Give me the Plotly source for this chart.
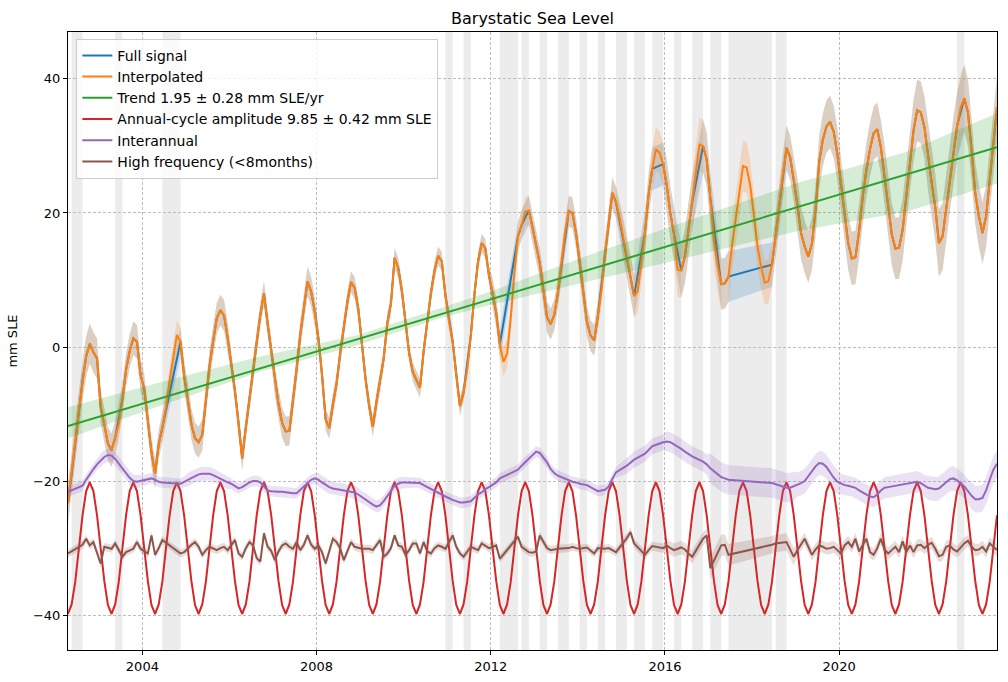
import numpy as np
import pandas as pd
import plotly.graph_objects as go

# ---------------- data ----------------
start_month = "2002-04"
end_month = "2023-08"

missing_months = ["2002-06", "2002-07", "2003-06", "2004-07", "2004-08", "2004-09", "2004-10",
                  "2011-01", "2011-06", "2012-04", "2012-05", "2012-06", "2012-07", "2012-10",
                  "2013-03", "2013-08", "2013-09", "2014-02", "2014-07", "2014-12", "2015-01",
                  "2015-05", "2015-06", "2015-10", "2015-11", "2016-04", "2016-09", "2016-10",
                  "2017-02", "2017-03", "2017-07", "2017-08", "2017-09", "2017-10", "2017-11",
                  "2017-12", "2018-01", "2018-02", "2018-03", "2018-04", "2018-05",
                  "2018-08", "2018-09", "2022-10"]

interpolated = [
    -23.3, -19.0, -14.0, -9.5, -5.0, -1.4, 0.5, -0.8, -1.7,                      # 2002 Apr-Dec
    -8.9, -11.6, -14.4, -15.4, -13.5, -11.5, -7.8, -3.4, -0.6, 1.3, 0.8, -4.2,   # 2003
    -6.2, -10.8, -15.7, -18.9, -14.5, -12.0, -9.0, -5.0, -1.5, 1.8, 0.8, -4.3,   # 2004
    -7.6, -11.5, -13.6, -14.2, -13.1, -7.9, -2.8, 0.9, 4.3, 5.5, 4.7, 1.4,       # 2005
    -2.4, -6.5, -11.4, -16.6, -12.0, -7.5, -3.5, 0.7, 4.8, 8.0, 3.5, -0.6,       # 2006
    -5.1, -8.5, -11.3, -12.6, -12.5, -8.3, -3.3, 1.8, 5.7, 9.8, 8.3, 5.3,        # 2007
    1.3, -4.1, -10.8, -12.1, -8.5, -5.5, -1.0, 3.0, 6.8, 9.7, 8.8, 5.7,          # 2008
    0.6, -4.8, -8.8, -11.9, -8.2, -5.1, -1.7, 3.6, 6.5, 13.3, 11.8, 8.4,         # 2009
    3.5, -0.9, -3.7, -5.0, -6.1, -0.6, 4.0, 8.0, 11.4, 13.6, 12.8, 7.7,          # 2010
    3.8, 0.8, -4.3, -8.8, -6.8, -3.4, 1.7, 7.9, 12.8, 15.5, 14.7, 10.7,          # 2011
    8.1, 5.1, 0.4, -2.2, -1.0, 4.3, 11.0, 16.5, 18.2, 20.2, 20.4, 17.9,          # 2012
    15.1, 12.5, 8.5, 4.5, 3.4, 4.8, 8.1, 12.4, 17.2, 20.3, 20.0, 17.0,           # 2013
    12.6, 8.3, 3.8, 1.7, 1.0, 4.6, 8.5, 14.0, 18.7, 23.0, 21.6, 19.3,            # 2014
    16.4, 13.5, 10.6, 7.6, 8.3, 12.9, 17.1, 22.8, 26.6, 29.5, 29.0, 27.3,        # 2015
    24.1, 19.9, 16.8, 11.5, 11.4, 13.5, 17.6, 21.6, 25.3, 30.2, 30.0, 28.0,      # 2016
    22.2, 15.8, 12.2, 9.4, 9.5, 10.5, 15.2, 19.4, 23.0, 27.0, 26.8, 24.1,        # 2017
    19.7, 15.0, 12.0, 9.6, 9.8, 12.3, 16.6, 21.3, 25.8, 29.7, 28.3, 25.0,        # 2018
    21.3, 17.0, 15.0, 13.5, 15.4, 20.4, 27.6, 30.9, 32.9, 33.6, 32.1, 28.8,      # 2019
    24.4, 19.8, 15.5, 13.2, 13.4, 17.3, 22.4, 26.4, 29.5, 31.9, 32.5, 29.8,      # 2020
    25.7, 21.2, 16.8, 14.7, 14.8, 17.5, 22.4, 27.8, 32.3, 35.3, 35.0, 32.8,      # 2021
    28.3, 24.5, 20.8, 15.5, 16.5, 20.7, 25.3, 29.3, 33.0, 35.8, 37.1, 35.0,      # 2022
    29.5, 23.0, 19.5, 17.0, 19.5, 24.8, 30.5, 35.8,                              # 2023 Jan-Aug
]

annual_cycle = [
    -39.8, -38.4, -35.0, -30.0, -25.1, -21.5, -20.2, -21.5, -25.1,
    -30.0, -34.9, -38.5, -39.8, -38.4, -35.0, -30.0, -25.1, -21.5, -20.2, -21.5, -25.1,
    -30.0, -34.9, -38.5, -39.8, -38.4, -35.0, -30.0, -25.1, -21.5, -20.2, -21.5, -25.1,
    -30.0, -34.9, -38.5, -39.8, -38.4, -35.0, -30.0, -25.1, -21.5, -20.2, -21.5, -25.1,
    -30.0, -34.9, -38.5, -39.8, -38.4, -35.0, -30.0, -25.1, -21.5, -20.2, -21.5, -25.1,
    -30.0, -34.9, -38.5, -39.8, -38.4, -35.0, -30.0, -25.1, -21.5, -20.2, -21.5, -25.1,
    -30.0, -34.9, -38.5, -39.8, -38.4, -35.0, -30.0, -25.1, -21.5, -20.2, -21.5, -25.1,
    -30.0, -34.9, -38.5, -39.8, -38.4, -35.0, -30.0, -25.1, -21.5, -20.2, -21.5, -25.1,
    -30.0, -34.9, -38.5, -39.8, -38.4, -35.0, -30.0, -25.1, -21.5, -20.2, -21.5, -25.1,
    -30.0, -34.9, -38.5, -39.8, -38.4, -35.0, -30.0, -25.1, -21.5, -20.2, -21.5, -25.1,
    -30.0, -34.9, -38.5, -39.8, -38.4, -35.0, -30.0, -25.1, -21.5, -20.2, -21.5, -25.1,
    -30.0, -34.9, -38.5, -39.8, -38.4, -35.0, -30.0, -25.1, -21.5, -20.2, -21.5, -25.1,
    -30.0, -34.9, -38.5, -39.8, -38.4, -35.0, -30.0, -25.1, -21.5, -20.2, -21.5, -25.1,
    -30.0, -34.9, -38.5, -39.8, -38.4, -35.0, -30.0, -25.1, -21.5, -20.2, -21.5, -25.1,
    -30.0, -34.9, -38.5, -39.8, -38.4, -35.0, -30.0, -25.1, -21.5, -20.2, -21.5, -25.1,
    -30.0, -34.9, -38.5, -39.8, -38.4, -35.0, -30.0, -25.1, -21.5, -20.2, -21.5, -25.1,
    -30.0, -34.9, -38.5, -39.8, -38.4, -35.0, -30.0, -25.1, -21.5, -20.2, -21.5, -25.1,
    -30.0, -34.9, -38.5, -39.8, -38.4, -35.0, -30.0, -25.1, -21.5, -20.2, -21.5, -25.1,
    -30.0, -34.9, -38.5, -39.8, -38.4, -35.0, -30.0, -25.1, -21.5, -20.2, -21.5, -25.1,
    -30.0, -34.9, -38.5, -39.8, -38.4, -35.0, -30.0, -25.1, -21.5, -20.2, -21.5, -25.1,
    -30.0, -34.9, -38.5, -39.8, -38.4, -35.0, -30.0, -25.1, -21.5, -20.2, -21.5, -25.1,
    -30.0, -34.9, -38.5, -39.8, -38.4, -35.0, -30.0, -25.1,
]

interannual = [
    -21.6, -21.4, -21.2, -21.0, -20.7, -19.8, -18.9, -18.2, -17.5,
    -16.9, -16.4, -16.1, -16.2, -16.7, -17.3, -18.0, -18.8, -19.5, -20.0, -20.1, -20.0,
    -19.9, -19.7, -19.6, -19.8, -20.1, -20.2, -20.2, -20.3, -20.3, -20.4, -20.4, -20.1,
    -19.8, -19.5, -19.2, -19.0, -18.9, -18.9, -18.9, -19.1, -19.4, -19.6, -19.9, -20.2,
    -20.4, -20.8, -21.1, -20.9, -20.5, -20.2, -20.0, -20.0, -20.2, -20.8, -21.4, -21.5,
    -21.6, -21.6, -21.6, -21.7, -21.7, -21.8, -21.8, -21.3, -20.8, -20.3, -19.8, -19.6,
    -19.8, -20.2, -20.6, -20.9, -21.1, -21.2, -21.2, -21.3, -21.4, -21.5, -21.7, -22.0,
    -22.4, -22.7, -23.1, -23.5, -23.8, -23.6, -23.0, -22.2, -21.4, -20.7, -20.4, -20.2,
    -20.2, -20.2, -20.2, -20.2, -20.3, -20.6, -20.9, -21.2, -21.5, -21.7, -22.0, -22.3,
    -22.5, -22.8, -23.0, -23.2, -23.2, -23.1, -23.0, -22.5, -22.0, -21.7, -21.2, -20.9,
    -20.6, -20.2, -19.6, -19.3, -19.0, -18.8, -18.6, -18.3, -17.7, -17.1, -16.6, -16.1,
    -15.6, -15.8, -16.4, -17.2, -18.2, -18.8, -19.2, -19.5, -19.7, -19.9, -20.1, -20.2,
    -20.4, -20.5, -20.6, -20.9, -21.2, -21.5, -21.4, -21.3, -20.8, -19.7, -18.7, -18.3,
    -18.0, -17.7, -17.3, -16.8, -16.3, -16.1, -15.9, -15.4, -14.8, -14.5, -14.4, -14.2,
    -14.1, -14.2, -14.5, -14.9, -15.2, -15.6, -16.0, -16.3, -16.6, -16.9, -17.1, -17.5,
    -18.1, -18.6, -19.0, -19.4, -19.6, -19.8, -19.8, -19.8, -19.9, -19.9, -19.9, -19.9,
    -20.0, -20.0, -20.1, -20.2, -20.2, -20.3, -20.5, -20.8, -20.9, -21.0, -21.0, -20.8,
    -20.5, -20.3, -20.0, -19.3, -18.5, -17.8, -17.3, -17.4, -17.9, -18.7, -19.5, -20.1,
    -20.4, -20.6, -20.7, -20.8, -21.0, -21.4, -21.7, -22.0, -22.3, -22.4, -22.0, -21.4,
    -21.0, -20.9, -20.8, -20.8, -20.7, -20.6, -20.5, -20.3, -20.2, -20.1, -20.3, -20.7,
    -21.0, -21.1, -21.2, -21.1, -20.6, -20.1, -19.7, -19.6, -19.9, -20.3, -20.8, -21.5,
    -22.2, -22.7, -22.7, -22.5, -21.4, -19.8, -18.3, -17.4,
]

high_frequency = [
    -30.8, -30.5, -30.3, -30.1, -29.5, -28.6, -29.6, -29.1, -30.8,
    -32.3, -29.8, -30.0, -30.1, -29.3, -28.3, -31.3, -30.6, -30.3, -30.1, -29.1, -30.1,
    -30.5, -30.8, -28.1, -31.0, -30.0, -28.8, -29.3, -29.6, -30.0, -30.3, -30.8, -30.6,
    -30.1, -29.5, -29.1, -29.8, -31.0, -30.3, -29.8, -30.1, -30.3, -30.0, -29.8, -30.3,
    -29.5, -28.8, -30.8, -31.3, -30.0, -29.1, -29.6, -31.5, -32.0, -27.8, -29.8, -30.4,
    -31.8, -30.5, -29.6, -29.3, -29.8, -30.1, -29.1, -30.3, -29.5, -28.1, -29.5, -30.1,
    -29.6, -30.6, -32.3, -30.5, -28.6, -29.1, -30.0, -31.8, -30.5, -29.1, -29.8, -30.0,
    -30.1, -30.1, -30.1, -30.3, -29.5, -28.8, -31.3, -30.8, -30.0, -28.1, -29.6, -29.8,
    -31.0, -30.3, -29.3, -29.3, -30.8, -29.1, -30.5, -30.8, -30.0, -29.6, -29.8, -30.1,
    -29.8, -28.1, -29.8, -30.8, -31.3, -30.1, -29.8, -30.0, -30.3, -29.3, -29.6, -30.0,
    -29.8, -29.6, -31.6, -31.2, -30.8, -30.5, -30.0, -28.3, -29.8, -30.6, -30.6, -30.7,
    -30.5, -28.1, -29.5, -30.0, -30.3, -30.2, -30.1, -30.1, -30.0, -30.0, -29.8, -30.0,
    -30.1, -30.0, -29.9, -30.3, -30.8, -30.0, -29.6, -30.1, -30.0, -30.3, -30.6, -31.0,
    -29.8, -28.5, -27.6, -29.3, -30.3, -30.6, -31.0, -30.3, -29.7, -29.9, -30.2, -30.0,
    -29.6, -30.0, -30.3, -30.0, -29.9, -30.2, -30.8, -31.3, -29.8, -29.0, -28.6, -28.1,
    -33.0, -31.5, -30.4, -29.6, -29.5, -31.0, -30.9, -30.8, -30.7, -30.6, -30.5, -30.4,
    -30.3, -30.2, -30.1, -30.0, -29.9, -29.5, -29.3, -29.2, -29.1, -29.1, -30.3, -31.3,
    -30.3, -29.5, -28.6, -29.8, -31.0, -30.2, -29.6, -29.8, -30.1, -30.0, -29.8, -30.3,
    -30.8, -29.6, -29.1, -29.8, -28.6, -30.5, -29.5, -28.6, -30.6, -31.0, -30.0, -28.6,
    -30.2, -30.8, -30.3, -29.8, -30.6, -29.0, -30.6, -29.6, -30.6, -29.6, -29.5, -30.0,
    -29.5, -29.2, -30.1, -31.2, -31.0, -29.8, -29.6, -30.2, -30.5, -30.1, -29.3, -28.9,
    -29.8, -30.3, -30.2, -29.8, -30.5, -29.3, -29.8, -30.3,
]

# uncertainty half-widths read per calendar year
sigma_signal_by_year = {2002: 3.0, 2003: 2.5, 2004: 2.2, 2005: 2.3, 2006: 1.8, 2007: 2.2, 2008: 1.6,
                        2009: 1.5, 2010: 1.4, 2011: 1.4, 2012: 2.2, 2013: 2.3, 2014: 2.3, 2015: 3.2,
                        2016: 4.0, 2017: 3.8, 2018: 3.3, 2019: 3.9, 2020: 4.0, 2021: 4.6, 2022: 5.0,
                        2023: 4.6}
sigma_interannual_by_year = {2002: 0.8, 2003: 1.0, 2004: 0.8, 2005: 1.0, 2006: 0.8, 2007: 0.8, 2008: 1.0,
                             2009: 0.9, 2010: 0.8, 2011: 0.8, 2012: 0.8, 2013: 0.8, 2014: 0.8, 2015: 1.2,
                             2016: 1.5, 2017: 2.2, 2018: 2.2, 2019: 1.8, 2020: 1.5, 2021: 1.6, 2022: 1.8,
                             2023: 2.0}
sigma_hf_by_year = {2002: 0.6, 2003: 0.6, 2004: 0.6, 2005: 0.6, 2006: 0.6, 2007: 0.6, 2008: 0.6,
                    2009: 0.6, 2010: 0.6, 2011: 0.6, 2012: 0.6, 2013: 0.6, 2014: 0.6, 2015: 0.7,
                    2016: 1.0, 2017: 1.6, 2018: 1.3, 2019: 0.9, 2020: 0.9, 2021: 0.9, 2022: 0.9,
                    2023: 0.9}
annual_sigma = 0.42

trend_values = [-11.8, 29.8]        # at first and last month
trend_band_years = [2002.29, 2004.44, 2006.7, 2008.95, 2010.83, 2012.0, 2014.5, 2019.1, 2021.54, 2023.63]
trend_band_upper = [-9.0, -5.2, -1.4, 1.8, 5.8, 8.3, 14.3, 24.6, 29.1, 34.9]
trend_band_lower = [-13.6, -8.7, -3.7, 0.3, 4.3, 6.3, 10.2, 17.4, 20.2, 24.4]

x_tick_years = [2004, 2008, 2012, 2016, 2020]
y_tick_values = [-40, -20, 0, 20, 40]
y_tick_labels = ["\u221240", "\u221220", "0", "20", "40"]

# ---------------- derived ----------------
months = pd.period_range(start_month, end_month, freq="M")
t = np.array([p.year + (p.month - 0.5) / 12 for p in months])
years = np.array([p.year for p in months])
month_str = [str(p) for p in months]
miss_idx = sorted(month_str.index(m) for m in missing_months)
valid = np.array([i not in set(miss_idx) for i in range(len(t))])

interp = np.array(interpolated)
ann = np.array(annual_cycle)
ia = np.array(interannual)
hf = np.array(high_frequency)
s_sig = np.array([sigma_signal_by_year[y] for y in years])
s_ia = np.array([sigma_interannual_by_year[y] for y in years])
s_hf = np.array([sigma_hf_by_year[y] for y in years])

# gap spans: from last valid month before to first valid month after each run
runs = []
for i in miss_idx:
    if runs and i == runs[-1][1] + 1:
        runs[-1][1] = i
    else:
        runs.append([i, i])
gap_spans = [(t[a - 1], t[b + 1]) for a, b in runs]

C = dict(blue="#1f77b4", orange="#ff7f0e", green="#2ca02c", red="#d62728", purple="#9467bd", brown="#8c564b")
F = dict(blue="rgba(31,119,180,0.2)", orange="rgba(255,127,14,0.2)", green="rgba(44,160,44,0.2)",
         red="rgba(214,39,40,0.2)", purple="rgba(148,103,189,0.2)", brown="rgba(140,86,75,0.2)")

fig = go.Figure()


def band(x, lo, hi, fill):
    x = list(x)
    fig.add_trace(go.Scatter(x=x + x[::-1], y=list(hi) + list(lo)[::-1], fill="toself", fillcolor=fill,
                             mode="lines", line=dict(width=0), hoverinfo="skip", showlegend=False))


def line(x, y, color, name):
    fig.add_trace(go.Scatter(x=list(x), y=list(y), mode="lines", line=dict(color=color, width=2),
                             name=name))


tv, sv = t[valid], interp[valid]
band(tv, sv - s_sig[valid], sv + s_sig[valid], F["blue"])
line(tv, sv, C["blue"], "Full signal")
band(t, interp - s_sig, interp + s_sig, F["orange"])
line(t, interp, C["orange"], "Interpolated")
band(trend_band_years, trend_band_lower, trend_band_upper, F["green"])
line([t[0], t[-1]], trend_values, C["green"], "Trend 1.95 \u00b1 0.28 mm SLE/yr")
band(t, ann - annual_sigma, ann + annual_sigma, F["red"])
line(t, ann, C["red"], "Annual-cycle amplitude 9.85 \u00b1 0.42 mm SLE")
band(tv, ia[valid] - s_ia[valid], ia[valid] + s_ia[valid], F["purple"])
line(tv, ia[valid], C["purple"], "Interannual")
band(tv, hf[valid] - s_hf[valid], hf[valid] + s_hf[valid], F["brown"])
line(tv, hf[valid], C["brown"], "High frequency (<8months)")

shapes = [dict(type="rect", xref="x", yref="paper", x0=a, x1=b, y0=0, y1=1,
               fillcolor="rgba(128,128,128,0.15)", line=dict(width=0), layer="below")
          for a, b in gap_spans]

font = "DejaVu Sans, Arial, sans-serif"
axis_common = dict(showline=True, mirror=True, linecolor="black", linewidth=1, ticks="outside",
                   ticklen=4, tickwidth=1, tickcolor="black", showgrid=True, gridcolor="#bdbdbd",
                   gridwidth=0.8, griddash="3px,2px", zeroline=False,
                   tickfont=dict(family=font, size=13, color="black"))

fig.update_layout(
    width=1008, height=682,
    margin=dict(l=68, r=11, t=32, b=32, autoexpand=False),
    paper_bgcolor="white", plot_bgcolor="white",
    title=dict(text="Barystatic Sea Level", x=0.5, xref="paper", y=1 - 18 / 682, yref="container",
               xanchor="center", yanchor="middle", font=dict(family=font, size=16, color="black")),
    xaxis=dict(range=[t[0], t[-1]], tickvals=x_tick_years, ticktext=[str(v) for v in x_tick_years],
               **axis_common),
    yaxis=dict(range=[-45.2, 47.0], tickvals=y_tick_values, ticktext=y_tick_labels,
               title=dict(text="mm SLE", standoff=12, font=dict(family=font, size=13, color="black")),
               **axis_common),
    legend=dict(x=0.009, y=0.989, xanchor="left", yanchor="top", bgcolor="rgba(255,255,255,0.8)",
                bordercolor="#cccccc", borderwidth=1, font=dict(family=font, size=14, color="black"),
                tracegroupgap=0),
    shapes=shapes,
    showlegend=True,
)

fig.write_html("out.html")
